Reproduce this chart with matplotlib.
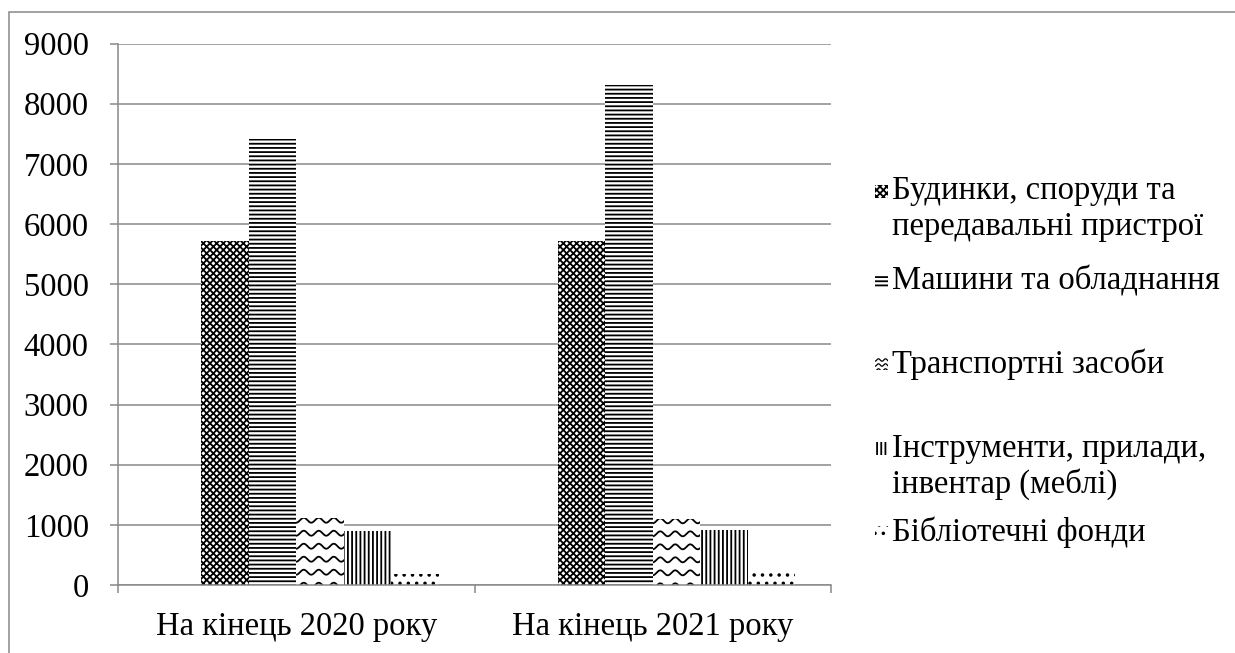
import numpy as np
import matplotlib
matplotlib.use("Agg")
import matplotlib.pyplot as plt
from matplotlib.patches import Rectangle
from matplotlib.lines import Line2D

plt.rcParams['font.family'] = 'serif'
plt.rcParams['font.serif'] = ['Liberation Serif', 'Times New Roman', 'DejaVu Serif']
plt.rcParams['hatch.linewidth'] = 1.3

categories = ['На кінець 2020 року', 'На кінець 2021 року']
series_names = ['Будинки, споруди та\nпередавальні пристрої',
                'Машини та обладнання',
                'Транспортні засоби',
                'Інструменти, прилади,\nінвентар (меблі)',
                'Бібліотечні фонди']
buildings = [5710, 5710]
machines = [7420, 8310]
transport = [1110, 1100]
tools = [890, 920]
library = [180, 220]
y_ticks = [0, 1000, 2000, 3000, 4000, 5000, 6000, 7000, 8000, 9000]

values = [buildings, machines, transport, tools, library]
hatches = ['xxxxx', '----', None, '||||', '..']

W, H = 1235, 653
fig = plt.figure(figsize=(W / 100, H / 100), dpi=100)
ax_l, ax_r, ax_t, ax_b = 118, 831, 43.5, 585
ax = fig.add_axes([ax_l / W, 1 - ax_b / H, (ax_r - ax_l) / W, (ax_b - ax_t) / H])

grid_col = '#898989'
fs = 23.5
ax.set_xlim(0, 2)
ax.set_ylim(0, 9000)
ax.set_yticks(y_ticks)
ax.grid(axis='y', color=grid_col, linewidth=1.1)
ax.set_axisbelow(True)
for s in ['top', 'right']:
    ax.spines[s].set_visible(False)
for s in ['left', 'bottom']:
    ax.spines[s].set_color(grid_col)
    ax.spines[s].set_linewidth(1.1)

ax.set_xticks([0, 1, 2])
ax.set_xticklabels([])
ax.set_xticks([0.5, 1.5], minor=True)
ax.set_xticklabels(categories, minor=True, fontsize=fs)
ax.tick_params(axis='x', which='major', length=6, width=1.1, color=grid_col)
ax.tick_params(axis='x', which='minor', length=0, pad=19)
ax.tick_params(axis='y', length=6, width=1.1, color=grid_col, labelsize=fs, pad=15)

# Excel-like layout: 6 slots per category (first one empty), gap 150%
n_slots = 6
w = 1 / (n_slots + 1.5)
x0 = np.arange(len(categories)) + 0.75 * w

px_x = 2 / (ax_r - ax_l)      # data units per pixel
px_y = 9000 / (ax_b - ax_t)

bars_all = []
for k, (vals, h) in enumerate(zip(values, hatches)):
    bars = ax.bar(x0 + (k + 1) * w, vals, width=w, align='edge',
                  color='white', edgecolor='black', linewidth=0, hatch=h)
    bars_all.append(bars)

# wavy pattern for transport bars
for b in bars_all[2]:
    bx, bw, bh = b.get_x(), b.get_width(), b.get_height()
    xs = np.linspace(bx - 0.01, bx + bw + 0.01, 200)
    row = bh - 2 * px_y
    while row > -15 * px_y:
        ys = row - 2.5 * px_y * np.cos(2 * np.pi * (xs - bx) / (15 * px_x))
        ln = ax.plot(xs, ys, color='black', linewidth=1.3)[0]
        ln.set_clip_path(b)
        row -= 13 * px_y

# legend drawn manually
leg_y = [192, 282, 364, 449, 533]
for k, (name, h, yy) in enumerate(zip(series_names, hatches, leg_y)):
    r = Rectangle((875 / W, 1 - (yy + 6) / H), 13 / W, 13 / H,
                  transform=fig.transFigure, facecolor='white',
                  edgecolor='black', linewidth=0, hatch=h)
    fig.add_artist(r)
    if h is None:
        for j in range(3):
            xs = np.linspace(873, 890, 40)
            ys = yy - 4 + j * 5 + 1.2 * np.cos(2 * np.pi * (xs - 875) / 7)
            ln = Line2D(xs / W, 1 - ys / H, transform=fig.transFigure,
                        color='black', linewidth=0.9)
            fig.add_artist(ln)
            ln.set_clip_path(r)
    fig.text(892 / W, 1 - (yy - 16) / H, name, fontsize=fs, va='top',
             ha='left', linespacing=1.2, transform=fig.transFigure)

# outer frame
frame = Rectangle((9 / W, -0.1), 1.2, 1 - 12 / H + 0.1, transform=fig.transFigure,
                  fill=False, edgecolor=grid_col, linewidth=1.1)
fig.add_artist(frame)

fig.savefig('out.png', dpi=100)
